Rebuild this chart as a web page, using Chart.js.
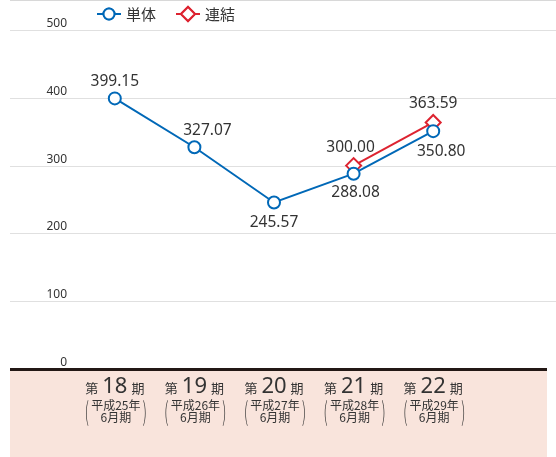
<!DOCTYPE html>
<html>
<head>
<meta charset="utf-8">
<script src="https://cdn.jsdelivr.net/npm/chart.js@4/dist/chart.umd.min.js"></script>
<style>
  html, body { margin: 0; padding: 0; background: #fff; }
  #wrap { width: 556px; height: 457px; position: relative; }
</style>
</head>
<body>
<div id="wrap"><canvas id="chart"></canvas></div>
<script>
// Data
const periods = ['18', '19', '20', '21', '22'];
const eraYears = ['平成25年', '平成26年', '平成27年', '平成28年', '平成29年'];
const monthLabel = '6月期';
const tanTai = [399.15, 327.07, 245.57, 288.08, 350.80];
const renKetsu = [null, null, null, 300.00, 363.59];
const yTicks = [0, 100, 200, 300, 400, 500];
const seriesNames = ['単体', '連結'];

const BLUE = '#0068b7';
const RED = '#dd2330';
const TEXT = '#333333';
const LATIN = '"Noto Sans", "Open Sans", sans-serif';
const CJK = '"Noto Sans CJK JP", "Noto Sans", sans-serif';

// label offsets relative to each point (dx, dy)
const labelOffsets = [
    [[0, -17], [13, -17], [0, 20], [2, 19], [8, 20]],
    [null, null, null, [-3, -18], [0, -19]]
];

const decor = {
    id: 'decor',
    beforeDatasetsDraw(chart) {
        const ctx = chart.ctx;
        const y = chart.scales.y;
        ctx.save();
        // pink band under the axis
        ctx.fillStyle = '#f9e4dc';
        ctx.fillRect(10, y.getPixelForValue(0) + 2, 537, 100);
        // top border
        ctx.strokeStyle = '#d8d8d8';
        ctx.lineWidth = 1;
        ctx.beginPath();
        ctx.moveTo(10, 0.5);
        ctx.lineTo(556, 0.5);
        ctx.stroke();
        // gridlines + tick labels
        ctx.font = '12px ' + LATIN;
        ctx.textAlign = 'right';
        ctx.textBaseline = 'alphabetic';
        yTicks.forEach(v => {
            const py = Math.round(y.getPixelForValue(v));
            if (v !== 0) {
                ctx.strokeStyle = '#e0e0e0';
                ctx.lineWidth = 1;
                ctx.beginPath();
                ctx.moveTo(10, py + 0.5);
                ctx.lineTo(556, py + 0.5);
                ctx.stroke();
            }
            ctx.fillStyle = TEXT;
            ctx.fillText(String(v), 67, py - 3);
        });
        // baseline
        ctx.fillStyle = '#231815';
        ctx.fillRect(10, Math.round(y.getPixelForValue(0)) - 1, 537, 3);
        ctx.restore();
    },
    afterDraw(chart) {
        const ctx = chart.ctx;
        const x = chart.scales.x;
        const y0 = chart.scales.y.getPixelForValue(0);
        ctx.save();

        // value labels
        ctx.font = '15.5px ' + LATIN;
        ctx.fillStyle = TEXT;
        ctx.textAlign = 'center';
        ctx.textBaseline = 'middle';
        chart.data.datasets.forEach((ds, di) => {
            const meta = chart.getDatasetMeta(di);
            ds.data.forEach((v, i) => {
                if (v === null) return;
                const pt = meta.data[i];
                const off = labelOffsets[di][i];
                ctx.fillText(v.toFixed(2), pt.x + off[0], pt.y + off[1]);
            });
        });

        // category labels in the pink band
        periods.forEach((p, i) => {
            const cx = x.getPixelForValue(i);
            const base = y0 + 24;
            ctx.textBaseline = 'alphabetic';
            ctx.fillStyle = TEXT;
            ctx.font = '22px ' + LATIN;
            const nw = ctx.measureText(p).width;
            ctx.textAlign = 'center';
            ctx.fillText(p, cx, base);
            ctx.font = '13px ' + CJK;
            ctx.textAlign = 'right';
            ctx.fillText('第', cx - nw / 2 - 4, base);
            ctx.textAlign = 'left';
            ctx.fillText('期', cx + nw / 2 + 4, base);

            ctx.textAlign = 'center';
            ctx.textBaseline = 'middle';
            ctx.font = '12px ' + CJK;
            ctx.fillText(eraYears[i], cx + 1, y0 + 36);
            ctx.fillText(monthLabel, cx + 1, y0 + 48);

            // tall parentheses
            ctx.font = '300 13px ' + CJK;
            ctx.save();
            ctx.translate(cx - 28, y0 + 42);
            ctx.scale(1, 2);
            ctx.fillText('(', 0, 0);
            ctx.restore();
            ctx.save();
            ctx.translate(cx + 30, y0 + 42);
            ctx.scale(1, 2);
            ctx.fillText(')', 0, 0);
            ctx.restore();
        });

        // legend
        const ly = 14;
        const items = [
            { x: 97, color: BLUE, style: 'circle', label: seriesNames[0] },
            { x: 176, color: RED, style: 'rectRot', label: seriesNames[1] }
        ];
        items.forEach(it => {
            ctx.strokeStyle = it.color;
            ctx.lineWidth = 2;
            ctx.beginPath();
            ctx.moveTo(it.x, ly);
            ctx.lineTo(it.x + 24, ly);
            ctx.stroke();
            ctx.fillStyle = '#fff';
            Chart.helpers.drawPoint(ctx, {
                pointStyle: it.style,
                radius: it.style === 'circle' ? 5.5 : 7,
                borderWidth: 2
            }, it.x + 12, ly);
            ctx.fill();
            ctx.stroke();
            ctx.fillStyle = TEXT;
            ctx.font = '15px ' + CJK;
            ctx.textAlign = 'left';
            ctx.textBaseline = 'middle';
            ctx.fillText(it.label, it.x + 29, ly);
        });
        ctx.restore();
    }
};

new Chart(document.getElementById('chart'), {
    type: 'line',
    data: {
        labels: periods,
        datasets: [
            {
                label: seriesNames[0],
                data: tanTai,
                borderColor: BLUE,
                backgroundColor: '#fff',
                borderWidth: 2,
                pointStyle: 'circle',
                pointRadius: 6,
                pointBorderWidth: 2,
                pointBackgroundColor: '#fff',
                pointBorderColor: BLUE,
                tension: 0
            },
            {
                label: seriesNames[1],
                data: renKetsu,
                borderColor: RED,
                backgroundColor: '#fff',
                borderWidth: 2,
                pointStyle: 'rectRot',
                pointRadius: 7.5,
                pointBorderWidth: 2,
                pointBackgroundColor: '#fff',
                pointBorderColor: RED,
                tension: 0
            }
        ]
    },
    options: {
        responsive: true,
        maintainAspectRatio: false,
        animation: false,
        layout: { padding: { left: 75, right: 83, top: 30, bottom: 88 } },
        scales: {
            x: { display: false, offset: true },
            y: { display: false, min: 0, max: 500 }
        },
        plugins: {
            legend: { display: false },
            tooltip: { enabled: false }
        }
    },
    plugins: [decor]
});
</script>
</body>
</html>
